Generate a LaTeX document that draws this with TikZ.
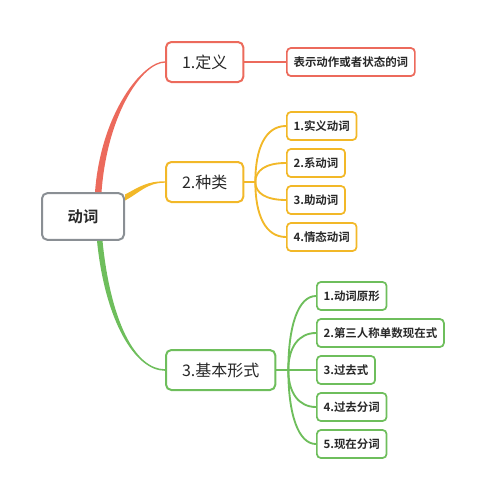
\documentclass[tikz,border=0pt]{standalone}
\usepackage{fontspec}
\setmainfont{Noto Sans CJK SC}[BoldFont=* Bold]
\usetikzlibrary{positioning, calc}

\definecolor{defred}{RGB}{236,106,92}
\definecolor{kindyellow}{RGB}{242,184,40}
\definecolor{formgreen}{RGB}{110,190,92}
\definecolor{rootgray}{RGB}{138,143,148}
\definecolor{textdark}{RGB}{40,40,40}

\begin{document}
\begin{tikzpicture}[
    x=0.75pt, y=-0.75pt,
    rootbox/.style={
        draw=rootgray, line width=1.5pt, rounded corners=4pt, fill=white,
        minimum width=61.5pt, minimum height=35pt, text=textdark,
        font=\bfseries\fontsize{11.5}{13}\selectfont
    },
    branchbox/.style={
        draw=#1, line width=1.5pt, rounded corners=4pt, fill=white,
        minimum height=30pt, inner xsep=12pt, anchor=west, text=textdark,
        font=\fontsize{12}{14}\selectfont
    },
    leafbox/.style={
        draw=#1, line width=1.3pt, rounded corners=3pt, fill=white,
        minimum height=21pt, inner xsep=5pt, anchor=west, text=textdark,
        font=\bfseries\fontsize{8.6}{10}\selectfont
    },
    subline/.style={draw=#1, line width=1.4pt}
]
    \useasboundingbox (0,0) rectangle (484,500);

    % Root and main branches ===========================
    \node[rootbox] (root) at (83,216.5) {动词};

    \node[branchbox=defred] (def) at (165,62) {1.定义};
    \node[branchbox=kindyellow] (kind) at (165,182) {2.种类};
    \node[branchbox=formgreen] (form) at (165,370) {3.基本形式};

    % Leaves ===========================
    \node[leafbox=defred] (d1) at (286,62) {表示动作或者状态的词};

    \node[leafbox=kindyellow] (k1) at (286,126) {1.实义动词};
    \node[leafbox=kindyellow] (k2) at (286,163) {2.系动词};
    \node[leafbox=kindyellow] (k3) at (286,200) {3.助动词};
    \node[leafbox=kindyellow] (k4) at (286,237) {4.情态动词};

    \node[leafbox=formgreen] (f1) at (316,296) {1.动词原形};
    \node[leafbox=formgreen] (f2) at (316,333) {2.第三人称单数现在式};
    \node[leafbox=formgreen] (f3) at (316,370) {3.过去式};
    \node[leafbox=formgreen] (f4) at (316,407) {4.过去分词};
    \node[leafbox=formgreen] (f5) at (316,444) {5.现在分词};

    % Tapered branches from the root ====================
    \fill[defred] ($(root.north)+(12,0)$) .. controls +(6,-80) and +(-22,0) .. ($(def.west)+(0,-0.7)$)
        -- ($(def.west)+(0,0.7)$) .. controls +(-22,0) and +(6,-80) .. ($(root.north)+(18.5,0)$) -- cycle;

    \fill[kindyellow] ($(root.east)+(0,-22)$) .. controls +(15,-8) and +(-18,0) .. ($(kind.west)+(0,-0.7)$)
        -- ($(kind.west)+(0,0.7)$) .. controls +(-18,0) and +(15,-8) .. ($(root.east)+(0,-16)$) -- cycle;

    \fill[formgreen] ($(root.south)+(14,0)$) .. controls +(8,80) and +(-30,0) .. ($(form.west)+(0,0.8)$)
        -- ($(form.west)+(0,-0.8)$) .. controls +(-30,0) and +(8,80) .. ($(root.south)+(19.5,0)$) -- cycle;

    % Connectors to the leaves ====================
    \draw[subline=defred] (def.east) -- (d1.west);

    \draw[subline=kindyellow] (kind.east) -- ++(11,0) coordinate (kindj);
    \foreach \n in {k1,k2,k3,k4}
        \draw[subline=kindyellow] (kindj) .. controls ($(kindj)!0.6!(kindj |- \n.west)$) and ($(kindj |- \n.west)+(10,0)$) .. (\n.west);

    \draw[subline=formgreen] (form.east) -- ++(12,0) coordinate (formj);
    \foreach \n in {f1,f2,f3,f4,f5}
        \draw[subline=formgreen] (formj) .. controls ($(formj)!0.6!(formj |- \n.west)$) and ($(formj |- \n.west)+(10,0)$) .. (\n.west);

\end{tikzpicture}
\end{document}
